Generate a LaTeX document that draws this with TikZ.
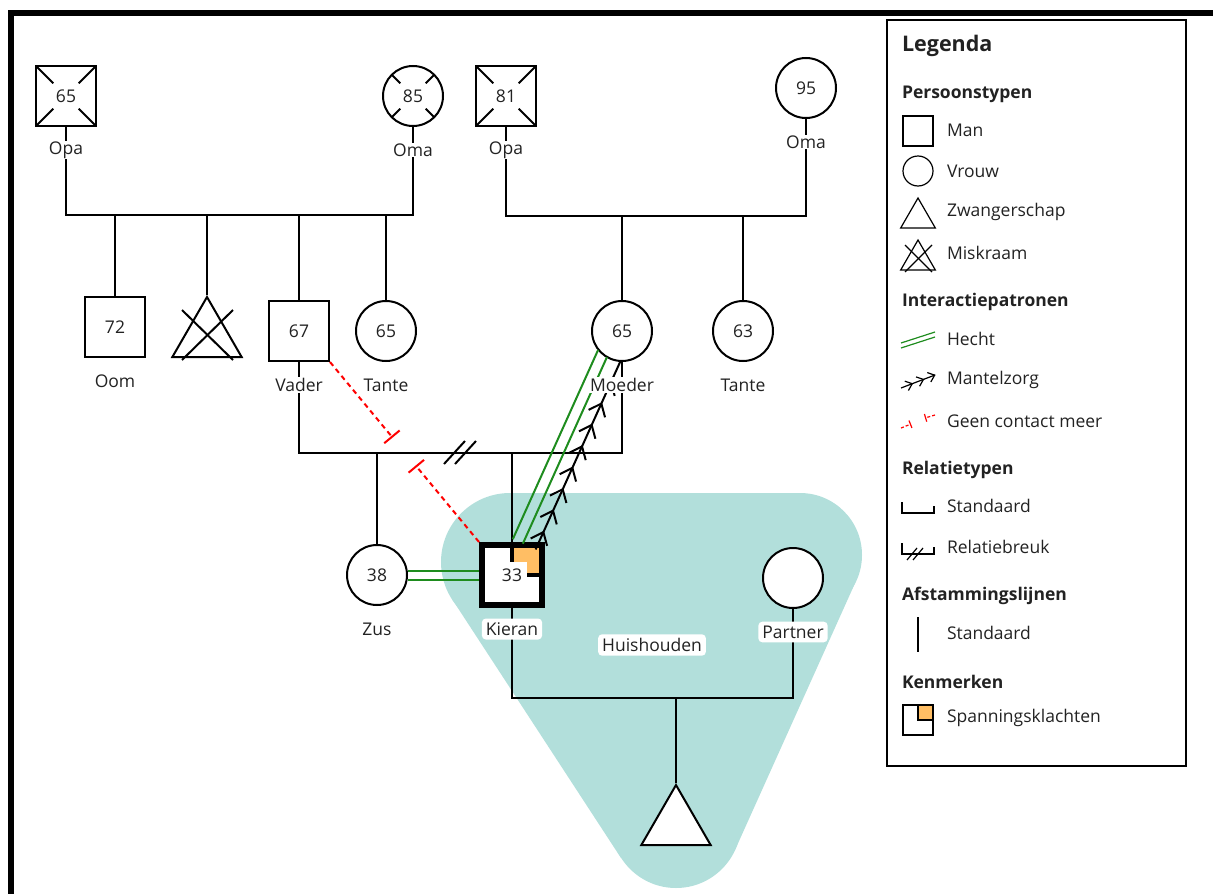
\documentclass[tikz,border=0pt]{standalone}
\usepackage{fontspec}
\setmainfont{Open Sans}
\usetikzlibrary{positioning, calc, shapes.geometric, arrows.meta, decorations.markings}
\definecolor{huis}{RGB}{178,223,219}
\definecolor{spanning}{RGB}{255,190,100}
\definecolor{hechtgroen}{RGB}{30,140,30}
\definecolor{tekst}{RGB}{34,34,34}

\begin{document}
\begin{tikzpicture}[x=1pt, y=-1pt, node distance=54pt, on grid,
    font=\fontsize{17.5}{21}\selectfont, text=tekst, line width=2pt,
    man/.style={draw, rectangle, minimum size=60pt, inner sep=0pt, fill=white},
    vrouw/.style={draw, circle, minimum size=60pt, inner sep=0pt, fill=white},
    zwanger/.style={draw, regular polygon, regular polygon sides=3, minimum size=80pt, inner sep=0pt, fill=white},
    overleden/.style={path picture={\foreach \a in {45,135,225,315}
        \draw[line width=2pt] (path picture bounding box.center) ++(\a:18) -- ++(\a:30);}},
    spanningsklacht/.style={path picture={
        \fill[spanning] (path picture bounding box.center) rectangle (path picture bounding box.north east);
        \draw[line width=4pt] (path picture bounding box.center) rectangle (path picture bounding box.north east);
        \fill[white] ($(path picture bounding box.center)+(-15,-13)$) rectangle ($(path picture bounding box.center)+(15,13)$);}},
    naam/.style={fill=white, inner sep=1pt},
    huisnaam/.style={fill=white, rounded corners=4pt, inner sep=4pt},
    hecht/.style={draw=hechtgroen, line width=2pt},
    zorg/.style={draw=black, line width=2pt,
        postaction={decorate}, decoration={markings,
        mark=between positions 19pt and 210pt step 23.5pt with {\draw[line width=2pt] (-11pt,9pt) -- (0pt,0pt) -- (-11pt,-9pt);}}},
    geencontact/.style={red, dash pattern=on 5pt off 4pt, -{Bar[width=20pt]}},
    kop/.style={font=\fontsize{17.5}{21}\selectfont\bfseries, anchor=west, inner sep=0pt},
    item/.style={anchor=west, inner sep=0pt},
    icoon/.style={line width=1.2pt}]

  \useasboundingbox (0,0) rectangle (1213,894);
  \draw[line width=6pt] (11,894) -- (11,13) -- (1213,13);

  \fill[huis] (510,562) circle (69) (800,555) circle (62) (676,823) circle (65);
  \fill[huis] (510,493) -- (800,493) -- (856,581) -- (735,850) -- (621,858) -- (452,599) -- cycle;

  \node[man, overleden] (opa1) at (66,96) {65};
  \node[vrouw, overleden] (oma1) at (413,96) {85};
  \node[man] (oom) at (115,327) {72};
  \node[zwanger] (miskraam) at (207,337) {};
  \node[man] (vader) at (299,331) {67};
  \node[vrouw] (tante1) at (386,331) {65};

  \node[man, overleden] (opa2) at (506,96) {81};
  \node[vrouw] (oma2) at (806,88) {95};
  \node[vrouw] (moeder) at (622,331) {65};
  \node[vrouw] (tante2) at (743,331) {63};

  \node[vrouw] (zus) at (377,575) {38};
  \node[man, line width=6pt, spanningsklacht] (kieran) at (512,575) {33};
  \node[vrouw] (partner) at (793,578) {};
  \node[zwanger] (baby) at (676,825) {};

  \coordinate (huwelijk1) at (239,215);
  \coordinate (huwelijk2) at (656,216);
  \coordinate (ouders) at (460,453);
  \coordinate (gezin) at (652,698);

  \draw (opa1) |- (huwelijk1) -| (oma1);
  \foreach \kind in {oom, miskraam, vader, tante1}
    \draw (\kind) -- (\kind |- huwelijk1);
  \draw (opa2) |- (huwelijk2) -| (oma2);
  \foreach \kind in {moeder, tante2}
    \draw (\kind) -- (\kind |- huwelijk2);
  \draw (vader) |- (ouders) -| (moeder);
  \foreach \dx in {0,11}
    \draw ($(ouders)+(-16+\dx,11)$) -- ++(21,-23);
  \foreach \kind in {zus, kieran}
    \draw (\kind) -- (\kind |- ouders);
  \draw (kieran) |- (gezin) -| (partner);
  \draw (baby) -- (baby |- gezin);

  \draw ($(miskraam)+(-25,-27)$) -- ($(miskraam)+(26,23)$);
  \draw ($(miskraam)+(26,-27)$) -- ($(miskraam)+(-25,23)$);

  \draw[hecht] ($(zus.east)+(0,-4.5)$) -- ($(kieran.west)+(0,-4.5)$);
  \draw[hecht] ($(zus.east)+(0,4.5)$) -- ($(kieran.west)+(0,4.5)$);
  \draw[hecht, shorten <=33pt, shorten >=27pt] ($(kieran)!14pt!90:(moeder)$) -- ($(moeder)!14pt!-90:(kieran)$);
  \draw[hecht, shorten <=33pt, shorten >=30pt] ($(kieran)!3pt!90:(moeder)$) -- ($(moeder)!3pt!-90:(kieran)$);
  \coordinate (zorgbegin) at ($(kieran)!11pt!-90:(moeder)$);
  \coordinate (zorgeind) at ($(moeder)!11pt!90:(kieran)$);
  \draw[zorg] ($(zorgbegin)!33pt!(zorgeind)$) -- ($(zorgeind)!28pt!(zorgbegin)$);
  \draw[geencontact] (vader.south east) -- ($(vader.south east)!0.42!(kieran.north west)$);
  \draw[geencontact] (kieran.north west) -- ($(kieran.north west)!0.425!(vader.south east)$);

  \node[naam, below=of opa1] (opa1naam) {Opa};
  \node[naam, below=of oma1] (oma1naam) {Oma};
  \node[naam, below=of oom] (oomnaam) {Oom};
  \node[naam, below=of vader] (vadernaam) {Vader};
  \node[naam, below=of tante1] (tante1naam) {Tante};
  \node[naam, below=of opa2] (opa2naam) {Opa};
  \node[naam, below=of oma2] (oma2naam) {Oma};
  \node[naam, below=of moeder] (moedernaam) {Moeder};
  \node[naam, below=of tante2] (tante2naam) {Tante};
  \node[naam, below=of zus] (zusnaam) {Zus};
  \node[huisnaam, below=of kieran] (kierannaam) {Kieran};
  \node[huisnaam, below=of partner] (partnernaam) {Partner};
  \node[huisnaam] (huishouden) at (652,645) {Huishouden};

  \draw (887,20) rectangle (1186,766);
  \node[kop, font=\fontsize{21.5}{25}\selectfont\bfseries] (legenda) at (901,46) {Legenda};

  \node[kop] (persoonstypen) at (901,94) {Persoonstypen};
  \node[man, icoon, minimum size=30pt] (lman) at (918,131) {};
  \node[item] (lmantekst) at (946,130) {Man};
  \node[vrouw, icoon, minimum size=30pt] (lvrouw) at (918,171) {};
  \node[item] (lvrouwtekst) at (946,171) {Vrouw};
  \node[zwanger, icoon, minimum size=40pt] (lzwanger) at (918,218) {};
  \node[item] (lzwangertekst) at (946,212) {Zwangerschap};
  \node[zwanger, icoon, minimum size=40pt] (lmiskraam) at (918,260) {};
  \draw[icoon] ($(lmiskraam)+(-13,-15)$) -- ($(lmiskraam)+(14,12)$);
  \draw[icoon] ($(lmiskraam)+(14,-15)$) -- ($(lmiskraam)+(-13,12)$);
  \node[item] (lmiskraamtekst) at (946,253) {Miskraam};

  \node[kop] (interactie) at (901,302) {Interactiepatronen};
  \draw[hecht, icoon] (901,343) -- (935,332);
  \draw[hecht, icoon] (901,348) -- (935,337);
  \node[item] (lhecht) at (946,339) {Hecht};
  \draw[icoon, postaction={decorate}, decoration={markings,
      mark=between positions 0.33 and 1 step 0.33 with {\draw[icoon] (-6pt,5pt) -- (0pt,0pt) -- (-6pt,-5pt);}}]
      (901,388) -- (935,375);
  \node[item] (lzorg) at (946,380) {Mantelzorg};
  \draw[icoon, red, dash pattern=on 3pt off 2pt, -{Bar[width=8pt]}] (901,428) -- (911,424);
  \draw[icoon, red, dash pattern=on 3pt off 2pt, -{Bar[width=8pt]}] (935,415) -- (925,418);
  \node[item] (lcontact) at (946,421) {Geen contact meer};

  \node[kop] (relatie) at (901,470) {Relatietypen};
  \draw[icoon] (902,502) -- (902,513) -- (934,513) -- (934,506);
  \node[item] (lstandaard) at (946,506) {Standaard};
  \draw[icoon] (902,543) -- (902,554) -- (934,554) -- (934,547);
  \draw[icoon] (907,560) -- (917,548) (913,560) -- (923,548);
  \node[item] (lbreuk) at (946,547) {Relatiebreuk};

  \node[kop] (afstamming) at (901,596) {Afstammingslijnen};
  \draw[icoon] (918,617) -- (918,652);
  \node[item] (lafstamming) at (946,633) {Standaard};

  \node[kop] (kenmerken) at (901,682) {Kenmerken};
  \draw[icoon] (903,705) rectangle (933,735);
  \draw[icoon, fill=spanning] (918,705) rectangle (933,720);
  \node[item] (lspanning) at (946,718) {Spanningsklachten};
\end{tikzpicture}
\end{document}
